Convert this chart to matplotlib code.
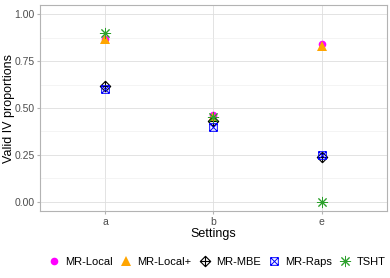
import matplotlib.pyplot as plt
from matplotlib.path import Path
import numpy as np

plt.rcParams['font.family'] = ['Liberation Sans', 'DejaVu Sans']

settings = ['a', 'b', 'e']
methods = ['MR-Local', 'MR-Local+', 'MR-MBE', 'MR-Raps', 'TSHT']
local = [0.87, 0.46, 0.84]
local_plus = [0.87, 0.45, 0.83]
mbe = [0.62, 0.43, 0.24]
raps = [0.60, 0.40, 0.25]
tsht = [0.90, 0.45, 0.00]

# compound marker shapes like R pch 9 and pch 7
diamond_plus = Path(
    [(0, 1), (1, 0), (0, -1), (-1, 0), (0, 1), (0, 1), (0, -1), (-1, 0), (1, 0)],
    [Path.MOVETO, Path.LINETO, Path.LINETO, Path.LINETO, Path.CLOSEPOLY,
     Path.MOVETO, Path.LINETO, Path.MOVETO, Path.LINETO])
square_x = Path(
    [(-1, -1), (1, -1), (1, 1), (-1, 1), (-1, -1), (-1, -1), (1, 1), (-1, 1), (1, -1)],
    [Path.MOVETO, Path.LINETO, Path.LINETO, Path.LINETO, Path.CLOSEPOLY,
     Path.MOVETO, Path.LINETO, Path.MOVETO, Path.LINETO])

styles = [
    dict(marker='o', color='#FF00FF', ms=5.5, mfc='#FF00FF', mew=0),
    dict(marker='^', color='#FFA500', ms=6.5, mfc='#FFA500', mew=0),
    dict(marker=diamond_plus, color='black', ms=7.5, mfc='none', mew=0.8),
    dict(marker=square_x, color='#0000FF', ms=5.5, mfc='none', mew=0.7),
    dict(marker=(8, 2, 0), color='#2CA02C', ms=8, mfc='none', mew=0.7),
]

fig = plt.figure(figsize=(3.9, 2.78), dpi=100)
ax = fig.add_axes([40 / 390, 67 / 278, 347 / 390, 206 / 278])

x = np.arange(len(settings)) + 1
for vals, name, st in zip([local, local_plus, mbe, raps, tsht], methods, styles):
    ax.plot(x, vals, ls='none', label=name, **st)

ax.set_xlim(0.4, 3.6)
ax.set_ylim(-0.05, 1.05)
ax.set_xticks(x)
ax.set_xticklabels(settings)
ax.set_yticks([0, 0.25, 0.5, 0.75, 1.0])
ax.set_yticklabels(['0.00', '0.25', '0.50', '0.75', '1.00'])
ax.set_yticks([0.125, 0.375, 0.625, 0.875], minor=True)
ax.grid(True, which='major', color='#DEDEDE', lw=0.6)
ax.grid(True, which='minor', color='#EDEDED', lw=0.4)
ax.set_axisbelow(True)
for s in ax.spines.values():
    s.set_color('#B3B3B3')
    s.set_linewidth(0.8)
ax.tick_params(which='major', length=2.5, color='#B3B3B3', labelsize=7.5, labelcolor='#4D4D4D', pad=1.5)
ax.tick_params(which='minor', length=0)

ax.set_xlabel('Settings', fontsize=9, labelpad=1)
ax.set_ylabel('Valid IV proportions', fontsize=9)
ax.yaxis.set_label_coords(-25 / 347, 0.5)

fig.legend(loc='center', bbox_to_anchor=(217 / 390, 0.057), ncol=5, frameon=False,
           fontsize=8, handlelength=1.0, handletextpad=0.5, columnspacing=0.7)

fig.savefig('out.png', dpi=100)
